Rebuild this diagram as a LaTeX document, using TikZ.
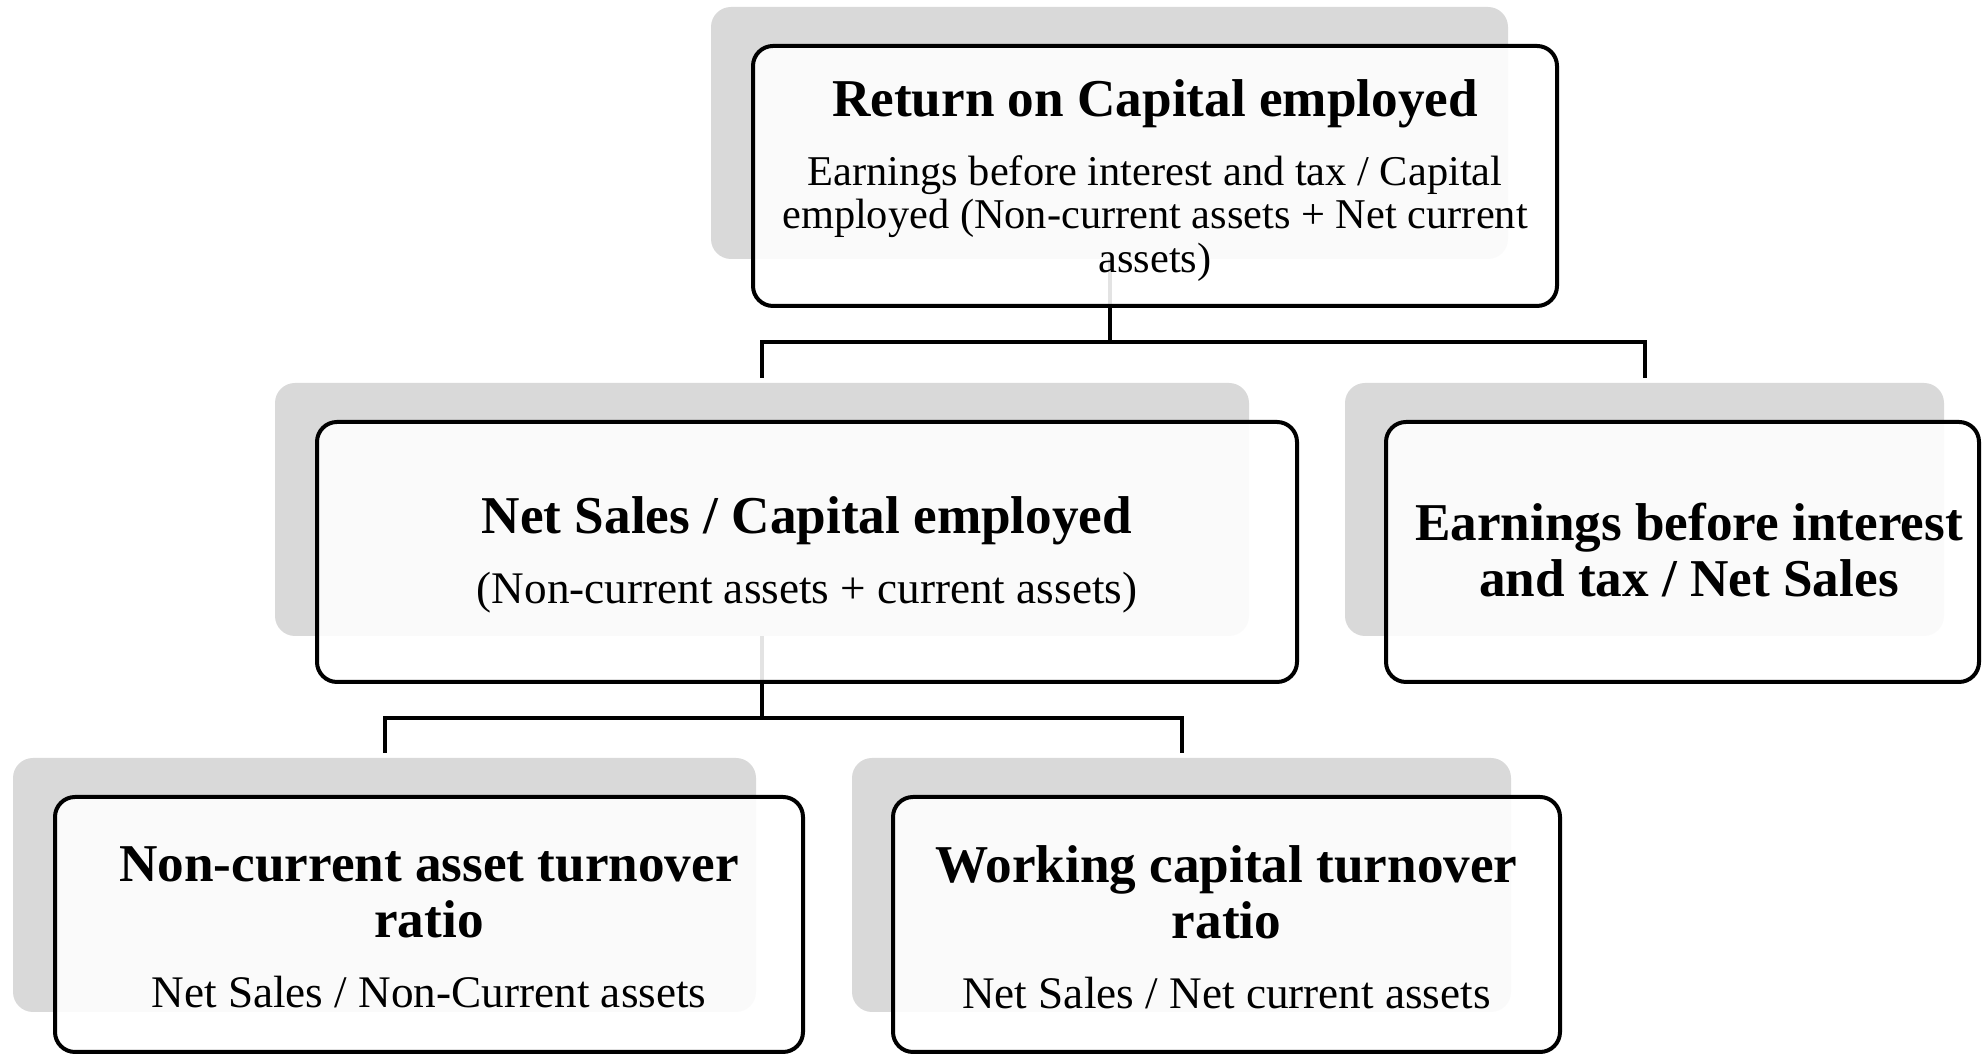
\documentclass[tikz,border=0pt]{standalone}
\usepackage{fontspec}
\setmainfont{Liberation Serif}
\definecolor{shade}{HTML}{D9D9D9}
\newcommand\ttlfont{\normalfont\fontsize{13.3pt}{14pt}\selectfont\bfseries}
\newcommand\bdyfont{\normalfont\fontsize{10.6pt}{10.9pt}\selectfont}
\newcommand\subfont{\normalfont\fontsize{11.3pt}{11.6pt}\selectfont}
\begin{document}
\begin{tikzpicture}[x=0.25pt,y=-0.25pt,
  shadowbox/.style={fill=shade, rounded corners=5pt, inner sep=0pt, outer sep=0pt},
  mainbox/.style={draw=black, line width=1pt, fill=white, fill opacity=0.89, text opacity=1,
    rounded corners=5pt, inner sep=0pt, outer sep=0pt},
  link/.style={draw=black, line width=1pt, line join=miter}]
\useasboundingbox (0,0) rectangle (1982,1055);
% shadows
\node[shadowbox, minimum width=199.25pt, minimum height=63pt] (s1) at (1109.5,133) {};
\node[shadowbox, minimum width=243.5pt, minimum height=63.25pt] (s2) at (762,509.5) {};
\node[shadowbox, minimum width=149.75pt, minimum height=63.25pt] (s3) at (1644.5,509.5) {};
\node[shadowbox, minimum width=185.75pt, minimum height=63.5pt] (s4) at (384.5,885) {};
\node[shadowbox, minimum width=164.75pt, minimum height=63.5pt] (s5) at (1181.5,885) {};
% connectors
\coordinate (j1) at (s1.south |- 0,342);
\coordinate (t2) at (s2.north |- 0,378);
\coordinate (t3) at (s3.north |- 0,378);
\draw[link] (s1.south) -- (j1);
\draw[link] (t2) |- (j1) -| (t3);
\coordinate (j2) at (s2.south |- 0,718);
\coordinate (t4) at (s4.north |- 0,753);
\coordinate (t5) at (s5.north |- 0,753);
\draw[link] (s2.south) -- (j2);
\draw[link] (t4) |- (j2) -| (t5);
% boxes
\node[mainbox, minimum width=201pt, minimum height=65pt] (b1) at (1155,176)
  {\parbox{196pt}{\vspace*{2.2pt}\centering\ttlfont Return on Capital employed\par\vspace{6.4pt}
   \bdyfont Earnings before interest and tax / Capital\\employed (Non-current assets + Net current\\assets)\par}};
\node[mainbox, minimum width=245pt, minimum height=65pt] (b2) at (807,552)
  {\parbox{235pt}{\vspace*{1.4pt}\centering\ttlfont Net Sales / Capital employed\par\vspace{5.9pt}
   \subfont (Non-current assets + current assets)\par}};
\node[mainbox, minimum width=148.25pt, minimum height=65pt] (b3) at (1682.5,552)
  {\hbox{\hspace{3.2pt}\parbox{142pt}{\centering\ttlfont Earnings before interest\\and tax / Net Sales\par\vspace*{1.2pt}}}};
\node[mainbox, minimum width=187pt, minimum height=63.75pt] (b4) at (429,924.5)
  {\parbox{182pt}{\vspace*{1.4pt}\centering\ttlfont Non-current asset turnover\\ratio\par\vspace{5.9pt}
   \subfont Net Sales / Non-Current assets\par}};
\node[mainbox, minimum width=166.75pt, minimum height=63.75pt] (b5) at (1226.5,924.5)
  {\parbox{162pt}{\vspace*{1.4pt}\centering\ttlfont Working capital turnover\\ratio\par\vspace{5.9pt}
   \subfont Net Sales / Net current assets\par}};
\end{tikzpicture}
\end{document}
